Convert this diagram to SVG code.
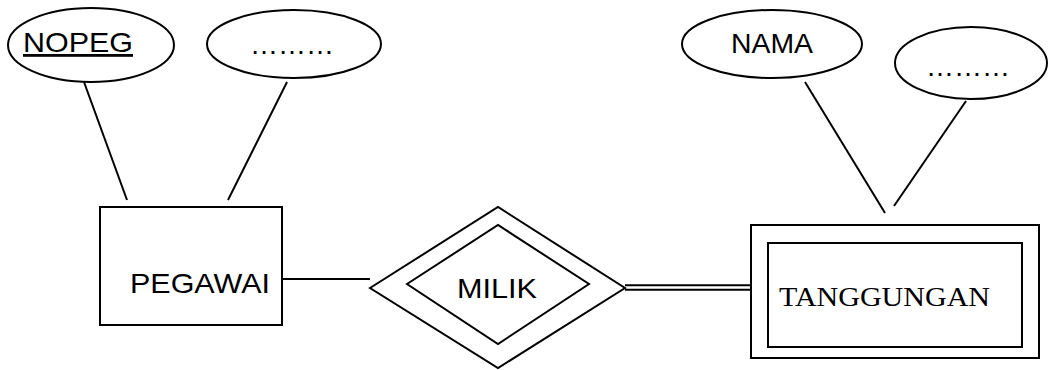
<svg xmlns="http://www.w3.org/2000/svg" width="1050" height="370" viewBox="0 0 1050 370">
<style>
.s{fill:none;stroke:#000;stroke-width:2}
.f{fill:#fff;stroke:#000;stroke-width:2}
.a{font-family:"Liberation Sans",Arial,sans-serif;font-size:28px;fill:#000}
.t{font-family:"Liberation Serif","Times New Roman",serif;font-size:28px;fill:#000}
</style>
<g id="connectors">
<line class="s" x1="84" y1="82" x2="127" y2="200"/>
<line class="s" x1="287" y1="82" x2="228" y2="200"/>
<line class="s" x1="282" y1="279" x2="370" y2="279"/>
<line class="s" x1="625" y1="285.3" x2="751" y2="285.3"/>
<line class="s" x1="625" y1="289.7" x2="751" y2="289.7"/>
<line class="s" x1="805" y1="82" x2="885" y2="213"/>
<line class="s" x1="966" y1="101" x2="894" y2="206"/>
</g>
<g id="nopeg">
<ellipse class="f" cx="91" cy="45" rx="83" ry="37"/>
<text class="a" x="23" y="52" textLength="110" lengthAdjust="spacingAndGlyphs" text-decoration="underline">NOPEG</text>
</g>
<g id="attr1">
<ellipse class="f" cx="294" cy="44" rx="87" ry="34"/>
<text class="a" x="292" y="54" text-anchor="middle" font-size="30">………</text>
</g>
<g id="nama">
<ellipse class="f" cx="772" cy="44" rx="90" ry="34"/>
<text class="a" x="731" y="53" textLength="82" lengthAdjust="spacingAndGlyphs">NAMA</text>
</g>
<g id="attr2">
<ellipse class="f" cx="971" cy="63" rx="76" ry="36"/>
<text class="a" x="968" y="76" text-anchor="middle" font-size="25">………</text>
</g>
<g id="pegawai">
<rect class="f" x="100" y="207" width="182" height="118"/>
<text class="a" x="130" y="293" textLength="140" lengthAdjust="spacingAndGlyphs">PEGAWAI</text>
</g>
<g id="milik">
<polygon class="f" points="370,288 498,207 625,288 498,368"/>
<polygon class="f" points="407,284 498,225 589,284 498,344"/>
<text class="a" x="457" y="298" textLength="80" lengthAdjust="spacingAndGlyphs">MILIK</text>
</g>
<g id="tanggungan">
<rect class="f" x="751" y="225" width="288" height="133"/>
<rect class="f" x="768" y="243" width="254" height="104"/>
<text class="t" x="779" y="306" textLength="211" lengthAdjust="spacingAndGlyphs">TANGGUNGAN</text>
</g>
</svg>
